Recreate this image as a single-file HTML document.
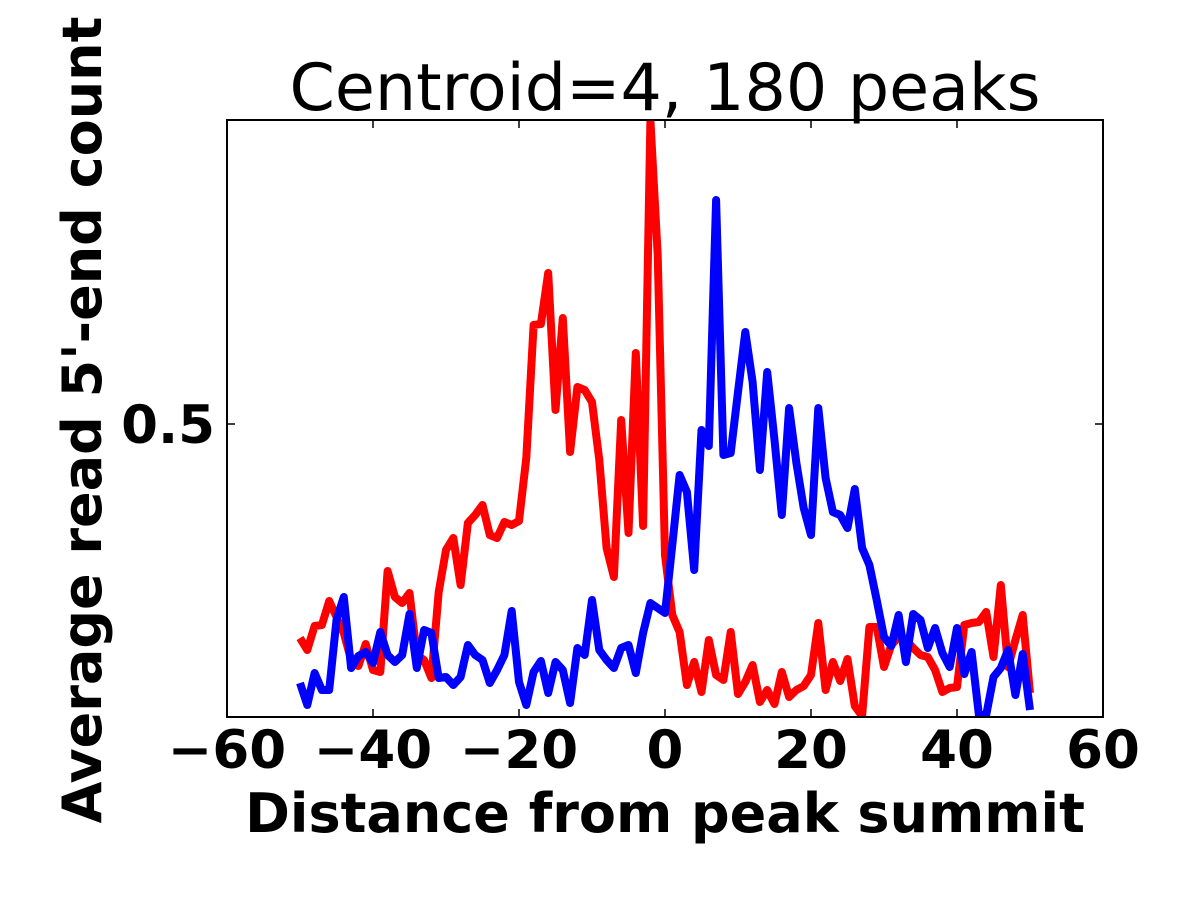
<!DOCTYPE html>
<html><head><meta charset="utf-8"><style>
html,body{margin:0;padding:0;background:#fff;}
svg text{font-family:"DejaVu Sans","Liberation Sans",sans-serif;}
</style></head><body>
<svg id="chart" width="1200" height="900" xmlns="http://www.w3.org/2000/svg">
<rect x="0" y="0" width="1200" height="900" fill="#fff"/>
<defs><clipPath id="plotclip"><rect x="227" y="120" width="876" height="597"/></clipPath></defs>
<text x="665" y="110" font-size="65" text-anchor="middle">Centroid=4, 180 peaks</text>
<g id="series" clip-path="url(#plotclip)"></g>
<rect x="227" y="120" width="876" height="597" fill="none" stroke="#000" stroke-width="2"/>
<g id="ticks"></g>
<text x="665" y="832" font-size="54" font-weight="bold" text-anchor="middle">Distance from peak summit</text>
<text x="0" y="0" font-size="54" font-weight="bold" text-anchor="middle" transform="translate(101,420) rotate(-90)">Average read 5'-end count</text>
</svg>
<script>
const xValues = [];
for (let i = -50; i <= 50; i++) xValues.push(i);
const redSeries = [286,274,298,299,323,307,291,264,258,280,254,252,353,327,321,331,269,264,246,332,374,386,339,401,409,419,389,386,402,399,403,466,599,600,651,514,606,472,537,534,522,464,376,347,504,391,571,398,804,669,369,309,292,239,262,232,284,249,244,292,230,242,259,222,234,220,252,227,234,238,249,301,234,262,243,265,218,208,297,297,257,279,287,284,276,269,267,254,232,236,237,299,301,302,312,267,339,257,284,309,231].map(v=>v/1000);
const blueSeries = [241,219,251,234,234,304,327,256,268,272,261,292,269,262,269,310,256,294,291,246,247,239,247,279,269,264,241,254,269,313,242,219,252,263,231,262,254,221,276,269,324,274,264,256,276,279,251,291,321,316,311,379,449,432,354,494,478,724,469,471,532,592,542,454,552,484,409,516,461,416,389,516,446,412,409,396,435,376,359,324,287,278,309,262,310,304,276,296,271,257,296,250,272,209,209,247,256,274,229,270,214].map(v=>v/1000);
const xTicks = [-60,-40,-20,0,20,40,60];
const xTickLabels = ["\u221260","\u221240","\u221220","0","20","40","60"];
const yTicks = [0.5];
const yTickLabels = ["0.5"];
const X0=227,X1=1103,Y0=717,Y1=120;
const xMin=-60,xMax=60,yMin=0.207,yMax=0.804;
function sx(v){return X0+(v-xMin)/(xMax-xMin)*(X1-X0);}
function sy(v){return Y0-(v-yMin)/(yMax-yMin)*(Y0-Y1);}
const NS="http://www.w3.org/2000/svg";
const g=document.getElementById('series');
function line(vals,color,name){
  const p=document.createElementNS(NS,'polyline');
  p.setAttribute('points',vals.map((v,i)=>sx(xValues[i]).toFixed(1)+','+sy(v).toFixed(1)).join(' '));
  p.setAttribute('fill','none');p.setAttribute('stroke',color);p.setAttribute('stroke-width','8');
  p.setAttribute('stroke-linejoin','round');
  
  
  g.appendChild(p);
}
line(redSeries,'#ff0000','red-series-line');
line(blueSeries,'#0000ff','blue-series-line');
const t=document.getElementById('ticks');
xTicks.forEach((v,i)=>{
  const x=sx(v);
  [[Y0,Y0-8],[Y1,Y1+8]].forEach(([a,b])=>{
    const l=document.createElementNS(NS,'line');
    l.setAttribute('x1',x);l.setAttribute('x2',x);l.setAttribute('y1',a);l.setAttribute('y2',b);
    l.setAttribute('stroke','#000');l.setAttribute('stroke-width','1.5');
    
    
    t.appendChild(l);
  });
  const tx=document.createElementNS(NS,'text');
  tx.setAttribute('x',x);tx.setAttribute('y',768);tx.setAttribute('font-size','53');
  tx.setAttribute('font-weight','bold');tx.setAttribute('text-anchor','middle');
  tx.textContent=xTickLabels[i];
  
  
  t.appendChild(tx);
});
yTicks.forEach((v,i)=>{
  const y=sy(v);
  [[X0,X0+8],[X1,X1-8]].forEach(([a,b])=>{
    const l=document.createElementNS(NS,'line');
    l.setAttribute('x1',a);l.setAttribute('x2',b);l.setAttribute('y1',y);l.setAttribute('y2',y);
    l.setAttribute('stroke','#000');l.setAttribute('stroke-width','1.5');
    
    
    t.appendChild(l);
  });
  const tx=document.createElementNS(NS,'text');
  tx.setAttribute('x',215);tx.setAttribute('y',y+19);tx.setAttribute('font-size','53');
  tx.setAttribute('font-weight','bold');tx.setAttribute('text-anchor','end');
  tx.textContent=yTickLabels[i];
  
  
  t.appendChild(tx);
});
</script>
</body></html>
